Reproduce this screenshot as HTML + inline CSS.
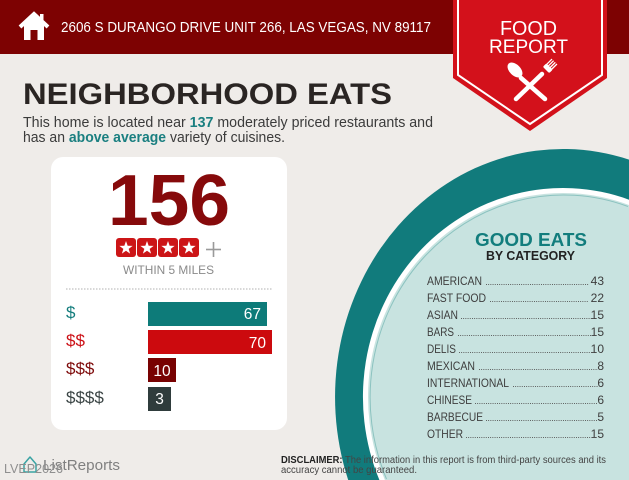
<!DOCTYPE html>
<html>
<head>
<meta charset="utf-8">
<style>
html,body{margin:0;padding:0;background:#efece9;width:629px;height:480px;overflow:hidden;}
svg{display:block;overflow:hidden;}
text{font-family:"Liberation Sans",Arial,sans-serif;}
</style>
</head>
<body>
<svg width="629" height="480" viewBox="0 0 629 480" xmlns="http://www.w3.org/2000/svg">
  <!-- background -->
  <rect x="0" y="0" width="629" height="480" fill="#efece9"/>

  <!-- big teal plate (paths kept inside frame) -->
  <path d="M348.2,480 A228,248 0 0,1 629,159.6 L629,480 Z" fill="#117b7c"/>
  <path d="M379.4,480 A200,209 0 0,1 629,199.7 L629,480 Z" fill="#ffffff"/>
  <path d="M384.9,480 A195,204 0 0,1 629,205 L629,480 Z" fill="#c8e3e0"/>
  <path d="M386.5,479 A193.5,202.5 0 0,1 628,206.5" fill="none" stroke="#8cc3c0" stroke-width="1"/>

  <!-- header -->
  <rect x="0" y="0" width="629" height="54" fill="#7d0202"/>
  <!-- house icon -->
  <path d="M20 27 L34 14 L48 27" fill="none" stroke="#fff" stroke-width="4" stroke-linejoin="miter"/>
  <rect x="40" y="14" width="3.5" height="8" fill="#fff"/>
  <rect x="24" y="25" width="20" height="15" fill="#fff"/>
  <path d="M24 25 L34 16 L44 25 Z" fill="#fff"/>
  <rect x="30.5" y="30" width="7" height="10" fill="#7d0202"/>
  <text x="61" y="32" font-size="14.5" fill="#ffffff" textLength="370" lengthAdjust="spacingAndGlyphs">2606 S DURANGO DRIVE UNIT 266, LAS VEGAS, NV 89117</text>

  <!-- badge -->
  <polygon points="453,0 607,0 607,78 530,131 453,78" fill="#d3111b"/>
  <polyline points="458,0 458,75 530,124 602,75 602,0" fill="none" stroke="#ffffff" stroke-width="2"/>
  <text x="500" y="35" font-size="20.5" fill="#ffffff" textLength="57" lengthAdjust="spacingAndGlyphs">FOOD</text>
  <text x="489" y="53" font-size="19.5" fill="#ffffff" textLength="79" lengthAdjust="spacingAndGlyphs">REPORT</text>
  <!-- spoon -->
  <line x1="521" y1="78" x2="545" y2="99" stroke="#fff" stroke-width="4.5" stroke-linecap="round"/>
  <ellipse cx="515" cy="70" rx="5.5" ry="9" transform="rotate(-45 515 70)" fill="#fff"/>
  <!-- fork -->
  <line x1="542" y1="74" x2="516" y2="99" stroke="#fff" stroke-width="4.5" stroke-linecap="round"/>
  <g transform="translate(546,70) rotate(45)">
    <rect x="-4.5" y="-5" width="9" height="5" rx="1.5" fill="#fff"/>
    <line x1="-3.5" y1="-12" x2="-3.5" y2="-4" stroke="#fff" stroke-width="1.3"/>
    <line x1="-1.2" y1="-12" x2="-1.2" y2="-4" stroke="#fff" stroke-width="1.3"/>
    <line x1="1.2" y1="-12" x2="1.2" y2="-4" stroke="#fff" stroke-width="1.3"/>
    <line x1="3.5" y1="-12" x2="3.5" y2="-4" stroke="#fff" stroke-width="1.3"/>
  </g>

  <!-- title and intro -->
  <text x="23" y="104" font-size="30" font-weight="bold" fill="#2a2523" textLength="369" lengthAdjust="spacingAndGlyphs">NEIGHBORHOOD EATS</text>
  <text x="23" y="127" font-size="15" fill="#3b3b3b" textLength="410" lengthAdjust="spacingAndGlyphs">This home is located near <tspan font-weight="bold" fill="#1a7f80">137</tspan> moderately priced restaurants and</text>
  <text x="23" y="142" font-size="15" fill="#3b3b3b" textLength="262" lengthAdjust="spacingAndGlyphs">has an <tspan font-weight="bold" fill="#1a7f80">above average</tspan> variety of cuisines.</text>

  <!-- card -->
  <rect x="51" y="157" width="236" height="273" rx="12" ry="12" fill="#ffffff"/>
  <text x="108" y="225" font-size="72" font-weight="bold" fill="#860a0b" textLength="122" lengthAdjust="spacingAndGlyphs">156</text>

  <!-- stars -->
  <g fill="#cc1517">
    <rect x="116" y="238" width="20" height="19" rx="3"/>
    <rect x="137" y="238" width="20" height="19" rx="3"/>
    <rect x="158" y="238" width="20" height="19" rx="3"/>
    <rect x="179" y="238" width="20" height="19" rx="3"/>
  </g>
  <g fill="#ffffff">
    <path transform="translate(126,248)" d="M0,-7 L1.65,-2.27 L6.66,-2.16 L2.66,0.87 L4.11,5.66 L0,2.8 L-4.11,5.66 L-2.66,0.87 L-6.66,-2.16 L-1.65,-2.27 Z"/>
    <path transform="translate(147,248)" d="M0,-7 L1.65,-2.27 L6.66,-2.16 L2.66,0.87 L4.11,5.66 L0,2.8 L-4.11,5.66 L-2.66,0.87 L-6.66,-2.16 L-1.65,-2.27 Z"/>
    <path transform="translate(168,248)" d="M0,-7 L1.65,-2.27 L6.66,-2.16 L2.66,0.87 L4.11,5.66 L0,2.8 L-4.11,5.66 L-2.66,0.87 L-6.66,-2.16 L-1.65,-2.27 Z"/>
    <path transform="translate(189,248)" d="M0,-7 L1.65,-2.27 L6.66,-2.16 L2.66,0.87 L4.11,5.66 L0,2.8 L-4.11,5.66 L-2.66,0.87 L-6.66,-2.16 L-1.65,-2.27 Z"/>
  </g>
  <line x1="206" y1="249.5" x2="221" y2="249.5" stroke="#9a9a9a" stroke-width="1.6"/>
  <line x1="213.5" y1="242" x2="213.5" y2="257" stroke="#9a9a9a" stroke-width="1.6"/>
  <text x="123" y="274" font-size="12" fill="#8a8a8a" textLength="91" lengthAdjust="spacingAndGlyphs">WITHIN 5 MILES</text>
  <line x1="66" y1="289" x2="272" y2="289" stroke="#b0b0b0" stroke-width="1" stroke-dasharray="1.5 1.5"/>

  <!-- price bars -->
  <text x="66" y="318" font-size="17" fill="#137c7c">$</text>
  <rect x="148" y="302" width="119" height="24" fill="#0d7b79"/>
  <text x="261" y="319" font-size="15.5" fill="#ffffff" text-anchor="end">67</text>

  <text x="66" y="346" font-size="17" fill="#cc1016">$$</text>
  <rect x="148" y="330" width="124" height="24" fill="#cc0a0e"/>
  <text x="266" y="348" font-size="15.5" fill="#ffffff" text-anchor="end">70</text>

  <text x="66" y="374" font-size="17" fill="#7e0b0b">$$$</text>
  <rect x="148" y="358" width="28" height="24" fill="#780202"/>
  <text x="162" y="376" font-size="15.5" fill="#ffffff" text-anchor="middle">10</text>

  <text x="66" y="403" font-size="17" fill="#3a4444">$$$$</text>
  <rect x="148" y="387" width="23" height="24" fill="#2f3c3c"/>
  <text x="159.5" y="404" font-size="15.5" fill="#ffffff" text-anchor="middle">3</text>

  <!-- good eats -->
  <text x="475" y="246" font-size="18" font-weight="bold" fill="#127d7d" textLength="112" lengthAdjust="spacingAndGlyphs">GOOD EATS</text>
  <text x="486" y="260" font-size="12.5" font-weight="bold" fill="#222222" textLength="89" lengthAdjust="spacingAndGlyphs">BY CATEGORY</text>

  <g font-size="12" fill="#3d3d3d">
    <text x="427" y="285" textLength="55" lengthAdjust="spacingAndGlyphs">AMERICAN</text>
    <text x="604" y="285" text-anchor="end">43</text>
    <text x="427" y="302" textLength="59" lengthAdjust="spacingAndGlyphs">FAST FOOD</text>
    <text x="604" y="302" text-anchor="end">22</text>
    <text x="427" y="319" textLength="31" lengthAdjust="spacingAndGlyphs">ASIAN</text>
    <text x="604" y="319" text-anchor="end">15</text>
    <text x="427" y="336" textLength="27" lengthAdjust="spacingAndGlyphs">BARS</text>
    <text x="604" y="336" text-anchor="end">15</text>
    <text x="427" y="353" textLength="29" lengthAdjust="spacingAndGlyphs">DELIS</text>
    <text x="604" y="353" text-anchor="end">10</text>
    <text x="427" y="370" textLength="48" lengthAdjust="spacingAndGlyphs">MEXICAN</text>
    <text x="604" y="370" text-anchor="end">8</text>
    <text x="427" y="387" textLength="82" lengthAdjust="spacingAndGlyphs">INTERNATIONAL</text>
    <text x="604" y="387" text-anchor="end">6</text>
    <text x="427" y="404" textLength="45" lengthAdjust="spacingAndGlyphs">CHINESE</text>
    <text x="604" y="404" text-anchor="end">6</text>
    <text x="427" y="421" textLength="56" lengthAdjust="spacingAndGlyphs">BARBECUE</text>
    <text x="604" y="421" text-anchor="end">5</text>
    <text x="427" y="438" textLength="36" lengthAdjust="spacingAndGlyphs">OTHER</text>
    <text x="604" y="438" text-anchor="end">15</text>
  </g>
  <g stroke="#555" stroke-width="0.9" stroke-dasharray="0.9 1.3">
    <line x1="486" y1="284.5" x2="589" y2="284.5"/>
    <line x1="490" y1="301.5" x2="589" y2="301.5"/>
    <line x1="461" y1="318.5" x2="595" y2="318.5"/>
    <line x1="458" y1="335.5" x2="595" y2="335.5"/>
    <line x1="459" y1="352.5" x2="595" y2="352.5"/>
    <line x1="479" y1="369.5" x2="598" y2="369.5"/>
    <line x1="513" y1="386.5" x2="598" y2="386.5"/>
    <line x1="475" y1="403.5" x2="598" y2="403.5"/>
    <line x1="486" y1="420.5" x2="598" y2="420.5"/>
    <line x1="466" y1="437.5" x2="595" y2="437.5"/>
  </g>

  <!-- footer -->
  <path d="M24 464 L30 457 L36 464 L36 472 L24 472 Z" fill="none" stroke="#3aa3a3" stroke-width="1.5" stroke-linejoin="round"/>
  <text x="43" y="470" font-size="15" fill="#808080" textLength="77" lengthAdjust="spacingAndGlyphs">ListReports</text>
  <text x="4" y="473" font-size="13" fill="#8f8f8f" textLength="59" lengthAdjust="spacingAndGlyphs">LVEP2026</text>

  <text x="281" y="463" font-size="10" fill="#444" textLength="325" lengthAdjust="spacingAndGlyphs"><tspan font-weight="bold" fill="#222">DISCLAIMER:</tspan> The information in this report is from third-party sources and its</text>
  <text x="281" y="473" font-size="10" fill="#444" textLength="136" lengthAdjust="spacingAndGlyphs">accuracy cannot be guaranteed.</text>
</svg>
</body>
</html>
